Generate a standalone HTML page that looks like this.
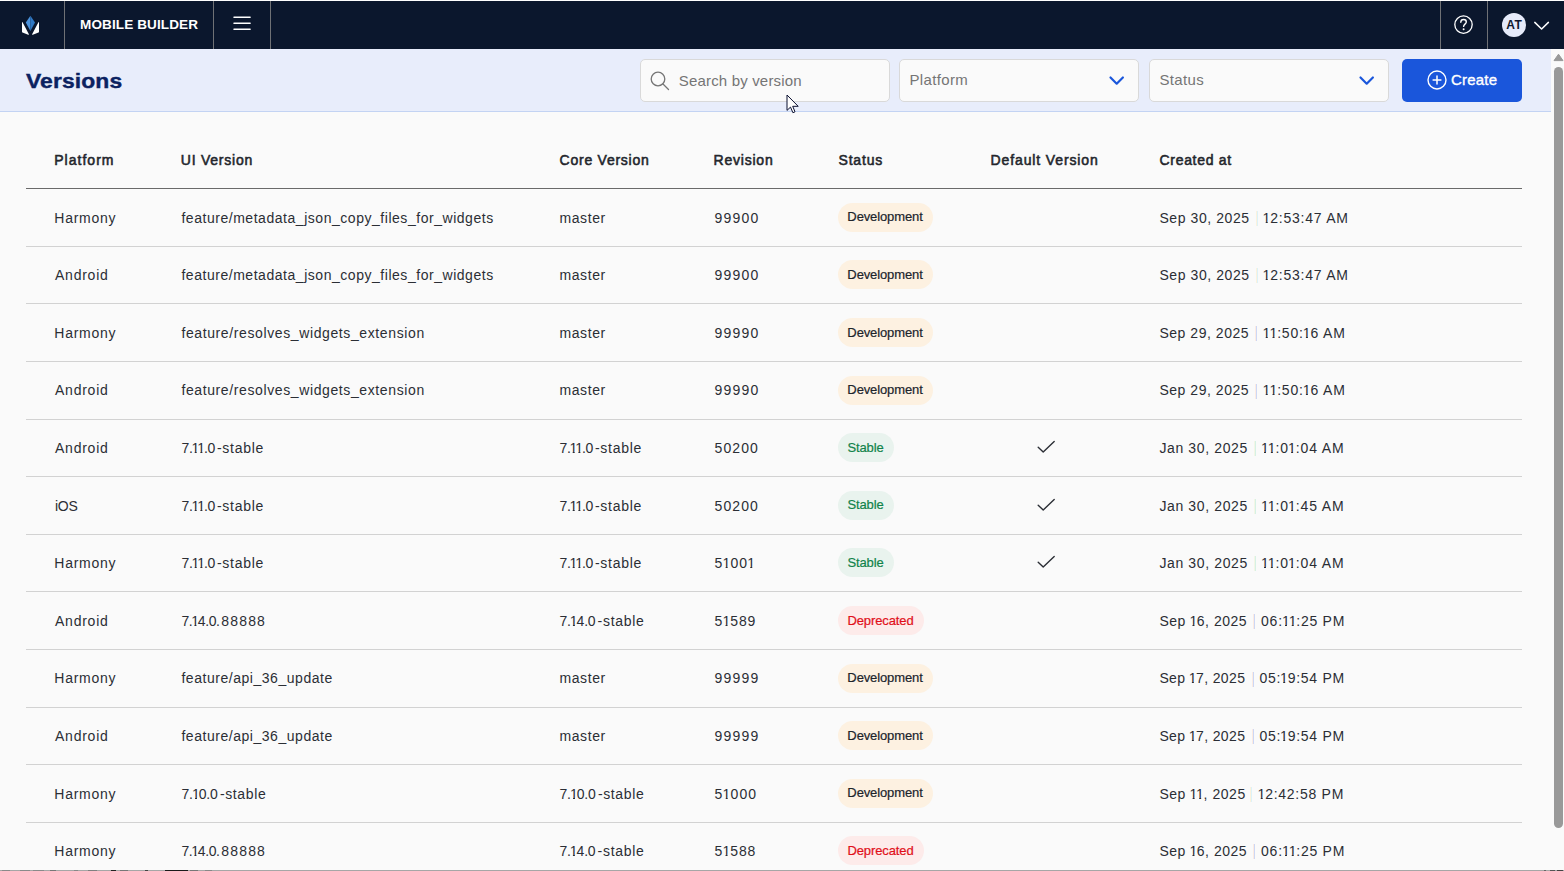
<!DOCTYPE html>
<html lang="en">
<head>
<meta charset="utf-8">
<title>Versions - Mobile Builder</title>
<style>
*{box-sizing:border-box;margin:0;padding:0}
html,body{width:1564px;height:871px;overflow:hidden;background:#fafafa;font-family:"Liberation Sans",sans-serif;color:#2a2d34}
body{position:relative}
.abs{position:absolute}
/* top navbar */
#nav{position:absolute;left:0;top:0;width:1564px;height:49px;background:#0b172d;border-top:1px solid #fff}
#nav .div{position:absolute;top:0;width:1px;height:48px;background:#6f7175}
#brand{position:absolute;left:80px;top:0;height:48px;line-height:48px;font-weight:700;font-size:13px;letter-spacing:.1px;color:#fff;white-space:nowrap;transform:scaleX(1.042);transform-origin:0 50%}
/* sub header */
#sub{position:absolute;left:0;top:49px;width:1551px;height:63px;background:#e8edfb;border-bottom:1px solid #c3d3f3}
#title{position:absolute;left:26.2px;top:16px;font-weight:700;font-size:21px;letter-spacing:.1px;-webkit-text-stroke:.4px #0b2261;color:#0b2261;line-height:32px;white-space:nowrap;transform:scaleX(1.09);transform-origin:0 50%}
.field{position:absolute;top:10px;height:43px;background:#fafafa;border:1px solid #d9d9d9;border-radius:5px}
.field .ph{position:absolute;top:0;line-height:41px;font-size:15px;color:#757575;white-space:nowrap;letter-spacing:.1px}
#create{position:absolute;left:1402px;top:10px;width:120px;height:43px;background:#1a56db;border-radius:5px;color:#fff}
#create span{position:absolute;left:49px;top:0;line-height:42px;font-size:15px;letter-spacing:.2px;-webkit-text-stroke:.35px #fff}
/* scrollbar */
#sbar{position:absolute;left:1551px;top:49px;width:13px;height:822px;background:#fafafa}
#thumb{position:absolute;left:3px;top:18px;width:9px;height:761px;border-radius:5px;background:#999}
/* table */
#thead{position:absolute;left:26px;top:112px;width:1496px;height:77px;border-bottom:1px solid #6a6a6a}
#thead div{position:absolute;top:0;line-height:96px;font-weight:400;font-size:14px;-webkit-text-stroke:.55px #23262c;color:#23262c;white-space:nowrap}
.row{position:absolute;left:26px;width:1496px;height:58px;border-bottom:1px solid #d2d2d2}
.row > span{position:absolute;top:1px;line-height:57px;font-size:14px;color:#2b2e35;white-space:nowrap}
.row i{font-style:normal;display:inline-block;line-height:14px;margin:0 -.9px;clip-path:polygon(0 0,100% 0,100% 10.7px,5.1px 10.7px,5.1px 100%,3.1px 100%,3.1px 10.7px,0 10.7px)}
.row u{position:absolute;top:22px;width:2px;height:15px;background:linear-gradient(90deg,#fbf2de 50%,#dcf2f8 50%)}
.row u.b{background:linear-gradient(90deg,#fcebe2 50%,#ccd7f5 50%)}
.row u.g{background:linear-gradient(90deg,#f3f6e6 50%,#d6f1e4 50%)}
.badge{position:absolute;left:812px;top:14px;height:29px;line-height:29.4px;text-indent:-1px;border-radius:15px;text-align:center;font-weight:400;font-size:13px;letter-spacing:-.12px;white-space:nowrap}
.dev{background:#fdf1e1;color:#20242c;-webkit-text-stroke:.2px #20242c}
.stb{background:#e9f3ee;color:#11834a;-webkit-text-stroke:.2px #11834a}
.dep{background:#fdebea;color:#e1101a;-webkit-text-stroke:.2px #e1101a}
.c1{left:28.5px}.c2{left:155px}.c3{left:533px}.c4{left:688px}.c5{left:812px}.c6{left:965px}.c7{left:1133px}
</style>
</head>
<body>
<div id="nav">
  <svg class="abs" style="left:20px;top:12px" width="22" height="24" viewBox="0 0 22 24">
    <polygon points="10.4,2.7 5.8,9.6 10.4,18" fill="#4a90d9"/>
    <polygon points="10.4,2.7 15,9.6 10.4,18" fill="#2f78c4"/>
    <path d="M2 9.2Q2.3 8.6 2.7 9.4L8.9 21.2Q9 22 8.2 21.8L2.5 19.6Q2 19.4 2 18.8Z" fill="#fff"/>
    <path d="M19 9.2Q18.7 8.6 18.3 9.4L12.1 21.2Q12 22 12.8 21.8L18.5 19.6Q19 19.4 19 18.8Z" fill="#fff"/>
  </svg>
  <div class="div" style="left:64px"></div>
  <div id="brand">MOBILE BUILDER</div>
  <div class="div" style="left:213px"></div>
  <svg class="abs" style="left:232px;top:14px" width="20" height="18" viewBox="0 0 20 18">
    <path d="M2 2.3H18.1M2 8.2H18.1M2 14.2H18.1" stroke="#fff" stroke-width="1.5" stroke-linecap="round" fill="none"/>
  </svg>
  <div class="div" style="left:270px"></div>
  <div class="div" style="left:1440px"></div>
  <svg class="abs" style="left:1453px;top:13px" width="22" height="22" viewBox="0 0 22 22">
    <circle cx="10.5" cy="10.6" r="8.7" fill="none" stroke="#fff" stroke-width="1.3"/>
    <path d="M7.8 8.2c0-1.6 1.2-2.7 2.8-2.7s2.7 1 2.7 2.5c0 2.1-2.7 2.2-2.7 4.4" fill="none" stroke="#fff" stroke-width="1.4" stroke-linecap="round"/>
    <circle cx="10.6" cy="15.2" r="1" fill="#fff"/>
  </svg>
  <div class="div" style="left:1487px"></div>
  <div class="abs" style="left:1502px;top:12px;width:24px;height:24px;border-radius:12px;background:#e6ebfa;color:#10182e;font-size:12px;font-weight:700;text-align:center;line-height:25px;letter-spacing:.35px;text-indent:.35px">AT</div>
  <svg class="abs" style="left:1532px;top:18px" width="20" height="14" viewBox="0 0 20 14">
    <path d="M2.8 3.4L9.6 10L16.4 3.4" fill="none" stroke="#fff" stroke-width="1.5" stroke-linecap="round" stroke-linejoin="round"/>
  </svg>
</div>

<div id="sub">
  <div id="title">Versions</div>
  <div class="field" style="left:640px;width:250px">
    <svg class="abs" style="left:8px;top:10px" width="22" height="22" viewBox="0 0 22 22">
      <circle cx="9" cy="9" r="6.8" fill="none" stroke="#757575" stroke-width="1.3"/>
      <path d="M14 14L19.5 19.5" stroke="#757575" stroke-width="1.3" stroke-linecap="round"/>
    </svg>
    <div class="ph" style="left:37.8px;letter-spacing:.17px">Search by version</div>
  </div>
  <div class="field" style="left:899px;width:240px">
    <div class="ph" style="left:9.4px;top:-1px;letter-spacing:.36px">Platform</div>
    <svg class="abs" style="left:207.9px;top:13.7px" width="18" height="14" viewBox="0 0 18 14">
      <path d="M2.5 3.5L8.7 9.7L14.9 3.5" fill="none" stroke="#1a56db" stroke-width="2.2" stroke-linecap="round" stroke-linejoin="round"/>
    </svg>
  </div>
  <div class="field" style="left:1149px;width:240px">
    <div class="ph" style="left:9.4px;top:-1px;letter-spacing:.36px">Status</div>
    <svg class="abs" style="left:207.9px;top:13.7px" width="18" height="14" viewBox="0 0 18 14">
      <path d="M2.5 3.5L8.7 9.7L14.9 3.5" fill="none" stroke="#1a56db" stroke-width="2.2" stroke-linecap="round" stroke-linejoin="round"/>
    </svg>
  </div>
  <div id="create">
    <svg class="abs" style="left:23.8px;top:10px" width="22" height="22" viewBox="0 0 22 22">
      <circle cx="11" cy="11" r="9" fill="none" stroke="#fff" stroke-width="1.4"/>
      <path d="M11 7.1V14.9M7.1 11H14.9" stroke="#fff" stroke-width="1.5" stroke-linecap="round"/>
    </svg>
    <span>Create</span>
  </div>
</div>

<div id="sbar">
  <svg class="abs" style="left:2px;top:4px" width="11" height="9" viewBox="0 0 11 9">
    <path d="M5.5 1.2L10 7.6H1Z" fill="#999" stroke="#999" stroke-width="1" stroke-linejoin="round"/>
  </svg>
  <div id="thumb"></div>
</div>

<div id="thead">
  <div style="left:28.27px;letter-spacing:1.013px">Platform</div><div style="left:154.78px;letter-spacing:0.772px">UI Version</div><div style="left:533.57px;letter-spacing:0.755px">Core Version</div><div style="left:687.57px;letter-spacing:0.778px">Revision</div><div style="left:812.57px;letter-spacing:0.792px">Status</div><div style="left:964.57px;letter-spacing:0.878px">Default Version</div><div style="left:1133.58px;letter-spacing:0.674px">Created at</div>
</div>

<svg class="abs" style="left:785.5px;top:94px;z-index:9" width="15" height="21" viewBox="0 0 15 21">
  <path d="M1 1V16.4L4.5 13.1L6.9 18.7L9 17.8L6.7 12.3H12.2Z" fill="#fff" stroke="#0b1030" stroke-width="1" stroke-linejoin="miter"/>
</svg>
<div class="abs" style="left:0;top:870px;width:1564px;height:1px;background:#a6a6a6;z-index:8"></div>
<div class="abs" style="left:0;top:870px;width:218px;height:1px;z-index:8;background:linear-gradient(90deg,#a6a6a6 2px,#8a8a8a 2px,#8a8a8a 10px,#a6a6a6 10px,#a6a6a6 20px,#8a8a8a 20px,#8a8a8a 30px,#a6a6a6 30px,#a6a6a6 33px,#8a8a8a 33px,#8a8a8a 44px,#a6a6a6 44px,#a6a6a6 50px,#777 50px,#777 56px,#a6a6a6 56px,#a6a6a6 74px,#888 74px,#888 78px,#a6a6a6 78px,#a6a6a6 88px,#808080 88px,#808080 97px,#a6a6a6 97px,#a6a6a6 111px,#222 111px,#222 116px,#a6a6a6 116px,#a6a6a6 120px,#777 120px,#777 128px,#a6a6a6 128px,#a6a6a6 145px,#444 145px,#444 148px,#a6a6a6 148px,#a6a6a6 165px,#1a1a1a 165px,#1a1a1a 188px,#a6a6a6 188px,#a6a6a6 190px,#777 190px,#777 198px,#a6a6a6 198px,#a6a6a6 205px,#888 205px,#888 212px,#a6a6a6 212px)"></div>
<div class="abs" style="left:1541px;top:870px;width:23px;height:1px;z-index:8;background:linear-gradient(90deg,#a6a6a6 3px,#666 3px,#666 5px,#a6a6a6 5px,#a6a6a6 9px,#555 9px,#555 14px,#a6a6a6 14px,#a6a6a6 16px,#444 16px,#444 22px,#a6a6a6 22px)"></div>
<div id="rows">
<div class="row" style="top:189px"><span style="left:28.30px;letter-spacing:0.718px">Harmony</span><span style="left:155.40px;letter-spacing:0.536px">feature/metadata_json_copy_files_for_widgets</span><span style="left:533.40px;letter-spacing:0.615px">master</span><span style="left:688.60px;letter-spacing:1.214px">99900</span><span style="left:1133.40px;letter-spacing:0.581px">Sep 30, 2025</span><span style="left:1237.50px;letter-spacing:0.758px"><i>1</i>2:53:47 AM</span><b class="badge dev" style="width:95px;line-height:27.4px">Development</b><u style="left:1230px"></u></div>
<div class="row" style="top:246px"><span style="left:29.00px;letter-spacing:0.755px">Android</span><span style="left:155.40px;letter-spacing:0.536px">feature/metadata_json_copy_files_for_widgets</span><span style="left:533.40px;letter-spacing:0.615px">master</span><span style="left:688.60px;letter-spacing:1.214px">99900</span><span style="left:1133.40px;letter-spacing:0.581px">Sep 30, 2025</span><span style="left:1237.50px;letter-spacing:0.758px"><i>1</i>2:53:47 AM</span><b class="badge dev" style="width:95px">Development</b><u style="left:1230px"></u></div>
<div class="row" style="top:304px"><span style="left:28.30px;letter-spacing:0.718px">Harmony</span><span style="left:155.40px;letter-spacing:0.612px">feature/resolves_widgets_extension</span><span style="left:533.40px;letter-spacing:0.615px">master</span><span style="left:688.60px;letter-spacing:1.214px">99990</span><span style="left:1133.40px;letter-spacing:0.535px">Sep 29, 2025</span><span style="left:1237.50px;letter-spacing:0.802px"><i>1</i><i>1</i>:50:<i>1</i>6 AM</span><b class="badge dev" style="width:95px">Development</b><u class="b" style="left:1229px"></u></div>
<div class="row" style="top:362px"><span style="top:0;left:29.00px;letter-spacing:0.755px">Android</span><span style="top:0;left:155.40px;letter-spacing:0.612px">feature/resolves_widgets_extension</span><span style="top:0;left:533.40px;letter-spacing:0.615px">master</span><span style="top:0;left:688.60px;letter-spacing:1.214px">99990</span><span style="top:0;left:1133.40px;letter-spacing:0.535px">Sep 29, 2025</span><span style="top:0;left:1237.50px;letter-spacing:0.802px"><i>1</i><i>1</i>:50:<i>1</i>6 AM</span><b class="badge dev" style="width:95px;line-height:27.4px">Development</b><u class="b" style="left:1229px"></u></div>
<div class="row" style="top:419px"><span style="left:29.00px;letter-spacing:0.755px">Android</span><span style="left:155.40px;letter-spacing:-0.300px">7.<i>1</i><i>1</i>.0</span><span style="left:190.90px;letter-spacing:0.728px">-stable</span><span style="left:533.40px;letter-spacing:-0.300px">7.<i>1</i><i>1</i>.0</span><span style="left:568.90px;letter-spacing:0.728px">-stable</span><span style="left:688.60px;letter-spacing:1.089px">50200</span><span style="left:1133.40px;letter-spacing:0.630px">Jan 30, 2025</span><span style="left:1235.80px;letter-spacing:0.852px"><i>1</i><i>1</i>:0<i>1</i>:04 AM</span><b class="badge stb" style="width:56px">Stable</b><svg width="20" height="14" viewBox="0 0 20 14" style="position:absolute;left:1010px;top:21px"><path d="M2.2 7.2L7.2 12L18.2 1.6" fill="none" stroke="#2b2e35" stroke-width="1.4" stroke-linecap="round" stroke-linejoin="round"/></svg><u class="g" style="left:1228px"></u></div>
<div class="row" style="top:477px"><span style="left:29.00px;letter-spacing:-0.300px">iOS</span><span style="left:155.40px;letter-spacing:-0.300px">7.<i>1</i><i>1</i>.0</span><span style="left:190.90px;letter-spacing:0.728px">-stable</span><span style="left:533.40px;letter-spacing:-0.300px">7.<i>1</i><i>1</i>.0</span><span style="left:568.90px;letter-spacing:0.728px">-stable</span><span style="left:688.60px;letter-spacing:1.089px">50200</span><span style="left:1133.40px;letter-spacing:0.630px">Jan 30, 2025</span><span style="left:1235.80px;letter-spacing:0.852px"><i>1</i><i>1</i>:0<i>1</i>:45 AM</span><b class="badge stb" style="width:56px;line-height:27.4px">Stable</b><svg width="20" height="14" viewBox="0 0 20 14" style="position:absolute;left:1010px;top:21px"><path d="M2.2 7.2L7.2 12L18.2 1.6" fill="none" stroke="#2b2e35" stroke-width="1.4" stroke-linecap="round" stroke-linejoin="round"/></svg><u class="g" style="left:1228px"></u></div>
<div class="row" style="top:534px"><span style="left:28.30px;letter-spacing:0.718px">Harmony</span><span style="left:155.40px;letter-spacing:-0.300px">7.<i>1</i><i>1</i>.0</span><span style="left:190.90px;letter-spacing:0.728px">-stable</span><span style="left:533.40px;letter-spacing:-0.300px">7.<i>1</i><i>1</i>.0</span><span style="left:568.90px;letter-spacing:0.728px">-stable</span><span style="left:688.60px;letter-spacing:1.014px">5<i>1</i>00<i>1</i></span><span style="left:1133.40px;letter-spacing:0.630px">Jan 30, 2025</span><span style="left:1235.80px;letter-spacing:0.852px"><i>1</i><i>1</i>:0<i>1</i>:04 AM</span><b class="badge stb" style="width:56px">Stable</b><svg width="20" height="14" viewBox="0 0 20 14" style="position:absolute;left:1010px;top:21px"><path d="M2.2 7.2L7.2 12L18.2 1.6" fill="none" stroke="#2b2e35" stroke-width="1.4" stroke-linecap="round" stroke-linejoin="round"/></svg><u class="g" style="left:1228px"></u></div>
<div class="row" style="top:592px"><span style="left:29.00px;letter-spacing:0.755px">Android</span><span style="left:155.40px;letter-spacing:-0.421px">7.<i>1</i>4.0.</span><span style="left:195.30px;letter-spacing:1.164px">88888</span><span style="left:533.40px;letter-spacing:-0.188px">7.<i>1</i>4.0</span><span style="left:571.60px;letter-spacing:0.711px">-stable</span><span style="left:688.60px;letter-spacing:0.914px">5<i>1</i>589</span><span style="left:1133.40px;letter-spacing:0.517px">Sep <i>1</i>6, 2025</span><span style="left:1235.10px;letter-spacing:0.742px">06:<i>1</i><i>1</i>:25 PM</span><b class="badge dep" style="width:86px">Deprecated</b><u class="b" style="left:1227px"></u></div>
<div class="row" style="top:650px"><span style="top:0;left:28.30px;letter-spacing:0.718px">Harmony</span><span style="top:0;left:155.40px;letter-spacing:0.538px">feature/api_36_update</span><span style="top:0;left:533.40px;letter-spacing:0.615px">master</span><span style="top:0;left:688.60px;letter-spacing:1.214px">99999</span><span style="top:0;left:1133.40px;letter-spacing:0.363px">Sep <i>1</i>7, 2025</span><span style="top:0;left:1233.40px;letter-spacing:0.708px">05:<i>1</i>9:54 PM</span><b class="badge dev" style="width:95px;line-height:27.4px">Development</b><u class="b" style="left:1226px"></u></div>
<div class="row" style="top:707px"><span style="left:29.00px;letter-spacing:0.755px">Android</span><span style="left:155.40px;letter-spacing:0.538px">feature/api_36_update</span><span style="left:533.40px;letter-spacing:0.615px">master</span><span style="left:688.60px;letter-spacing:1.214px">99999</span><span style="left:1133.40px;letter-spacing:0.363px">Sep <i>1</i>7, 2025</span><span style="left:1233.40px;letter-spacing:0.708px">05:<i>1</i>9:54 PM</span><b class="badge dev" style="width:95px">Development</b><u class="b" style="left:1226px"></u></div>
<div class="row" style="top:765px"><span style="left:28.30px;letter-spacing:0.718px">Harmony</span><span style="left:155.40px;letter-spacing:-0.128px">7.<i>1</i>0.0</span><span style="left:193.90px;letter-spacing:0.628px">-stable</span><span style="left:533.40px;letter-spacing:-0.128px">7.<i>1</i>0.0</span><span style="left:571.90px;letter-spacing:0.628px">-stable</span><span style="left:688.60px;letter-spacing:1.089px">5<i>1</i>000</span><span style="left:1133.40px;letter-spacing:0.548px">Sep <i>1</i><i>1</i>, 2025</span><span style="left:1232.50px;letter-spacing:0.718px"><i>1</i>2:42:58 PM</span><b class="badge dev" style="width:95px;line-height:27.4px">Development</b><u style="left:1224px"></u></div>
<div class="row" style="top:822px"><span style="left:28.30px;letter-spacing:0.718px">Harmony</span><span style="left:155.40px;letter-spacing:-0.421px">7.<i>1</i>4.0.</span><span style="left:195.30px;letter-spacing:1.164px">88888</span><span style="left:533.40px;letter-spacing:-0.188px">7.<i>1</i>4.0</span><span style="left:571.60px;letter-spacing:0.711px">-stable</span><span style="left:688.60px;letter-spacing:0.914px">5<i>1</i>588</span><span style="left:1133.40px;letter-spacing:0.517px">Sep <i>1</i>6, 2025</span><span style="left:1235.10px;letter-spacing:0.742px">06:<i>1</i><i>1</i>:25 PM</span><b class="badge dep" style="width:86px">Deprecated</b><u class="b" style="left:1227px"></u></div>
</div>
</body>
</html>
